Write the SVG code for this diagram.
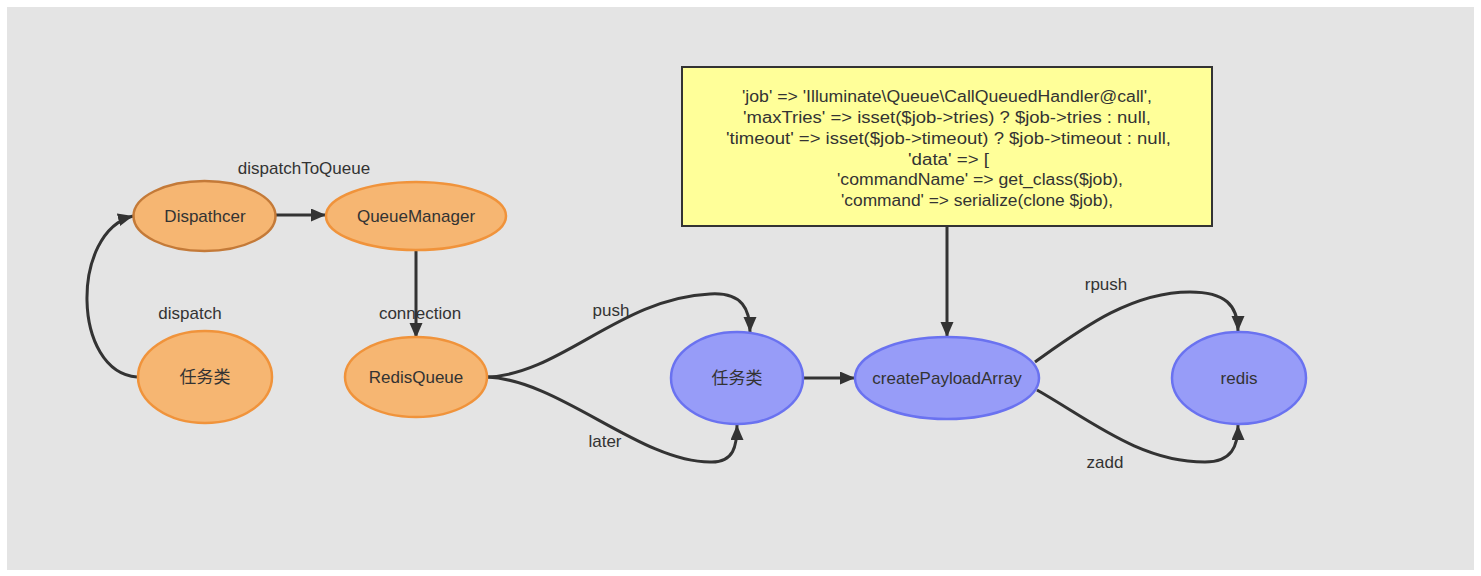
<svg xmlns="http://www.w3.org/2000/svg" width="1481" height="576" viewBox="0 0 1481 576">
<style>
text{font-family:"Liberation Sans",Arial,"Noto Sans CJK SC",sans-serif;fill:#333;font-size:17px}
.c{text-anchor:middle}
.o{fill:#F6B672;stroke:#F0933B;stroke-width:2.5}
.od{fill:#F6B672;stroke:#C47A38;stroke-width:2.5}
.b{fill:#979CF8;stroke:#6A72F0;stroke-width:2.5}
.e{fill:none;stroke:#333;stroke-width:3;marker-end:url(#ah)}
.code{font-size:16px}
</style>
<defs>
<marker id="ah" markerUnits="userSpaceOnUse" markerWidth="16" markerHeight="14" refX="15" refY="6.5" orient="auto">
<path d="M0,0 L15,6.5 L0,13 z" fill="#333"/>
</marker>
</defs>
<rect x="0" y="0" width="1481" height="576" fill="#fff"/>
<rect x="7" y="7" width="1467" height="563" fill="#E4E4E4"/>
<g id="connectors">
<path class="e" d="M137,377 C72,372 70,232 133,216"/>
<path class="e" d="M276,215 L326,215"/>
<path class="e" d="M416,250 L416,338"/>
<path class="e" d="M487,377 C560,375 620,298 710,294 C743,292 750,310 750,332"/>
<path class="e" d="M487,377 C560,380 640,462 710,462 C734,463 737,446 737,425"/>
<path class="e" d="M804,378 L855,378"/>
<path class="e" d="M947,227 L947,337"/>
<path class="e" d="M1035,362 C1080,330 1130,292 1190,292 C1225,292 1238,305 1238,331"/>
<path class="e" d="M1037,390 C1090,420 1140,462 1205,462 C1232,462 1238,446 1238,425"/>
</g>
<g id="labels">
<text class="c" x="304" y="174">dispatchToQueue</text>
<text class="c" x="190" y="319">dispatch</text>
<text class="c" x="420" y="319">connection</text>
<text class="c" x="611" y="316">push</text>
<text class="c" x="605" y="447">later</text>
<text class="c" x="1106" y="290">rpush</text>
<text class="c" x="1105" y="468">zadd</text>
</g>
<g id="node-dispatcher">
<ellipse class="od" cx="204.5" cy="216" rx="71" ry="35"/>
<text class="c" x="205" y="222">Dispathcer</text>
</g>
<g id="node-queuemanager">
<ellipse class="o" cx="416" cy="216" rx="90" ry="34"/>
<text class="c" x="416" y="222">QueueManager</text>
</g>
<g id="node-task-orange">
<ellipse class="o" cx="205" cy="377" rx="67" ry="46"/>
<text class="c" x="205" y="383">任务类</text>
</g>
<g id="node-redisqueue">
<ellipse class="o" cx="416" cy="377" rx="71" ry="40"/>
<text class="c" x="416" y="383">RedisQueue</text>
</g>
<g id="node-task-blue">
<ellipse class="b" cx="737" cy="378" rx="66" ry="46"/>
<text class="c" x="737" y="384">任务类</text>
</g>
<g id="node-createpayload">
<ellipse class="b" cx="947" cy="378" rx="92" ry="41"/>
<text class="c" x="947" y="384">createPayloadArray</text>
</g>
<g id="node-redis">
<ellipse class="b" cx="1239" cy="378" rx="67" ry="46"/>
<text class="c" x="1239" y="384">redis</text>
</g>
<g id="node-payload-note">
<rect x="682" y="67" width="530" height="159" fill="#FFFF99" stroke="#333" stroke-width="2"/>
<text class="code" x="742" y="102" textLength="410" lengthAdjust="spacingAndGlyphs">'job' =&gt; 'Illuminate\Queue\CallQueuedHandler@call',</text>
<text class="code" x="743" y="123" textLength="408" lengthAdjust="spacingAndGlyphs">'maxTries' =&gt; isset($job-&gt;tries) ? $job-&gt;tries : null,</text>
<text class="code" x="726" y="144" textLength="445" lengthAdjust="spacingAndGlyphs">'timeout' =&gt; isset($job-&gt;timeout) ? $job-&gt;timeout : null,</text>
<text class="code" x="908" y="165" textLength="81" lengthAdjust="spacingAndGlyphs">'data' =&gt; [</text>
<text class="code" x="837" y="185" textLength="286" lengthAdjust="spacingAndGlyphs">'commandName' =&gt; get_class($job),</text>
<text class="code" x="841" y="206" textLength="272" lengthAdjust="spacingAndGlyphs">'command' =&gt; serialize(clone $job),</text>
</g>
</svg>
